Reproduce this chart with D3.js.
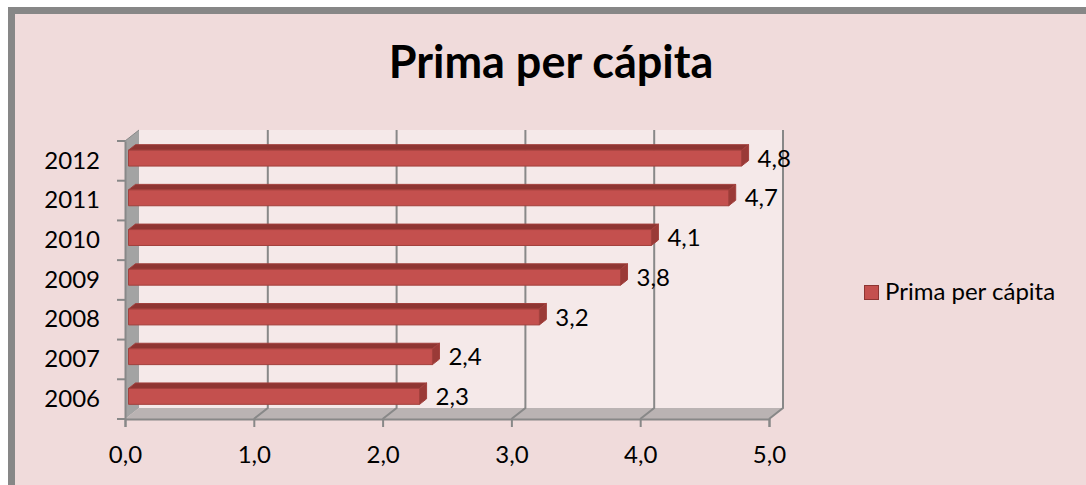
<!DOCTYPE html>
<html>
<head>
<meta charset="utf-8">
<script src="https://cdn.jsdelivr.net/npm/d3@7"></script>
<style>
  html, body { margin: 0; padding: 0; background: #fff; }
  svg { display: block; }
</style>
</head>
<body>
<div id="chart"></div>
<script>
// data
var years = ['2006', '2007', '2008', '2009', '2010', '2011', '2012'];
var prima = [2.26, 2.36, 3.19, 3.82, 4.06, 4.66, 4.76];
var xTicks = [0, 1, 2, 3, 4, 5];
var seriesName = 'Prima per cápita';
var chartTitle = 'Prima per cápita';

var width = 1086, height = 485;
var font = 'Lato, "Open Sans", sans-serif';
var fontSize = 24;

// 3d depth of the plot box
var depth = { dx : 14, dy : -11 };

var barFront = '#C4504E', barTop = '#8E3532', barSide = '#9A3A37', barStroke = '#A2403D';
var gridColor = '#888888';

var svg = d3.select('#chart').append('svg').attr('width', width).attr('height', height);

// chart area + frame
svg.append('rect').attr('x', 0).attr('y', 0).attr('width', width).attr('height', height).attr('fill', '#fff');
svg.append('rect').attr('x', 11.5).attr('y', 10.5).attr('width', width + 20).attr('height', height + 20)
    .attr('fill', '#F0DBDB').attr('stroke', '#878787').attr('stroke-width', 7);

var x = d3.scaleLinear().domain([0, 5]).range([125, 769]);
var y = d3.scaleBand().domain(years.slice().reverse()).range([141, 419]);
var bw = y.bandwidth();

var x0 = x(0), x1 = x(5), yTop = y.range()[0], yBot = y.range()[1];

function pts(arr) {
    return arr.map(function(p) { return p[0] + ',' + p[1]; }).join(' ');
}

// back wall
svg.append('polygon')
    .attr('points', pts([[x0 + depth.dx, yTop + depth.dy], [x1 + depth.dx, yTop + depth.dy], [x1 + depth.dx, yBot + depth.dy], [x0 + depth.dx, yBot + depth.dy]]))
    .attr('fill', '#F5E9E9');

// side wall
svg.append('polygon')
    .attr('points', pts([[x0, yTop], [x0 + depth.dx, yTop + depth.dy], [x0 + depth.dx, yBot + depth.dy], [x0, yBot]]))
    .attr('fill', '#A3A3A3');

// floor
svg.append('polygon')
    .attr('points', pts([[x0, yBot], [x1, yBot], [x1 + depth.dx, yBot + depth.dy], [x0 + depth.dx, yBot + depth.dy]]))
    .attr('fill', '#BAB3B3');

// gridlines on back wall and floor
var grid = svg.append('g').attr('stroke', gridColor).attr('stroke-width', 2).attr('fill', 'none');
grid.selectAll('polyline').data(xTicks.slice(1)).enter().append('polyline')
    .attr('points', function(d) {
        return pts([[x(d), yBot], [x(d) + depth.dx, yBot + depth.dy], [x(d) + depth.dx, yTop + depth.dy]]);
    });

// bars
var bh = bw * 0.4;
var fz = 0.25, bz = 0.75; // front and back of the bar in the depth
var bars = svg.append('g');
var rows = years.map(function(yr, i) { return { year : yr, value : prima[i] }; });

rows.forEach(function(d) {
    var fx0 = x(0) + depth.dx * fz, fx1 = x(d.value) + depth.dx * fz;
    var fy0 = y(d.year) + bw / 2 - bh / 2 + depth.dy * fz, fy1 = fy0 + bh;
    var ox = depth.dx * (bz - fz), oy = depth.dy * (bz - fz);
    var g = bars.append('g').attr('stroke', barStroke).attr('stroke-width', 1).attr('stroke-linejoin', 'round');
    g.append('polygon').attr('points', pts([[fx0, fy0], [fx1, fy0], [fx1 + ox, fy0 + oy], [fx0 + ox, fy0 + oy]])).attr('fill', barTop);
    g.append('polygon').attr('points', pts([[fx1, fy0], [fx1 + ox, fy0 + oy], [fx1 + ox, fy1 + oy], [fx1, fy1]])).attr('fill', barSide);
    g.append('rect').attr('x', fx0).attr('y', fy0).attr('width', fx1 - fx0).attr('height', bh).attr('fill', barFront);
});

var fmt = function(v) { return d3.format('.1f')(v).replace('.', ','); };

// value labels
svg.append('g').selectAll('text').data(rows).enter().append('text')
    .attr('x', function(d) { return x(d.value) + depth.dx * bz + 9; })
    .attr('y', function(d) { return y(d.year) + bw / 2 + depth.dy * fz; })
    .attr('dy', '0.36em')
    .attr('font-family', font).attr('font-size', fontSize).attr('fill', '#000')
    .text(function(d) { return fmt(d.value); });

// category axis
var yAxis = svg.append('g').attr('transform', 'translate(' + x0 + ',0)')
    .call(d3.axisLeft(y).tickSize(0).tickPadding(25));
yAxis.select('.domain').attr('stroke', gridColor).attr('stroke-width', 2);
yAxis.selectAll('text').attr('font-family', font).attr('font-size', fontSize).attr('fill', '#000');
var bounds = d3.range(years.length + 1).map(function(i) { return yTop + i * y.step(); });
yAxis.selectAll('.edge').data(bounds).enter().append('line').attr('class', 'edge')
    .attr('x1', -8).attr('x2', 0).attr('y1', function(d) { return d; }).attr('y2', function(d) { return d; })
    .attr('stroke', gridColor).attr('stroke-width', 2);
// top edge of side wall
svg.append('line').attr('x1', x0).attr('y1', yTop).attr('x2', x0 + depth.dx).attr('y2', yTop + depth.dy)
    .attr('stroke', gridColor).attr('stroke-width', 1);

// value axis
var xAxis = svg.append('g').attr('transform', 'translate(0,' + yBot + ')')
    .call(d3.axisBottom(x).tickValues(xTicks).tickFormat(fmt).tickSize(8).tickPadding(19));
xAxis.select('.domain').attr('stroke', gridColor).attr('stroke-width', 2);
xAxis.selectAll('.tick line').attr('stroke', gridColor).attr('stroke-width', 2);
xAxis.selectAll('text').attr('font-family', font).attr('font-size', fontSize).attr('fill', '#000');

// title
svg.append('text').attr('x', 551).attr('y', 78).attr('text-anchor', 'middle')
    .attr('font-family', font).attr('font-weight', 'bold').attr('font-size', 45).attr('fill', '#000')
    .text(chartTitle);

// legend
var legend = svg.append('g').attr('transform', 'translate(864,285)');
legend.append('rect').attr('x', 0.5).attr('y', 0.5).attr('width', 14).attr('height', 14)
    .attr('fill', barFront).attr('stroke', '#8E3532').attr('stroke-width', 1);
legend.append('text').attr('x', 21).attr('y', 15)
    .attr('font-family', font).attr('font-size', fontSize).attr('fill', '#000')
    .text(seriesName);
</script>
</body>
</html>
